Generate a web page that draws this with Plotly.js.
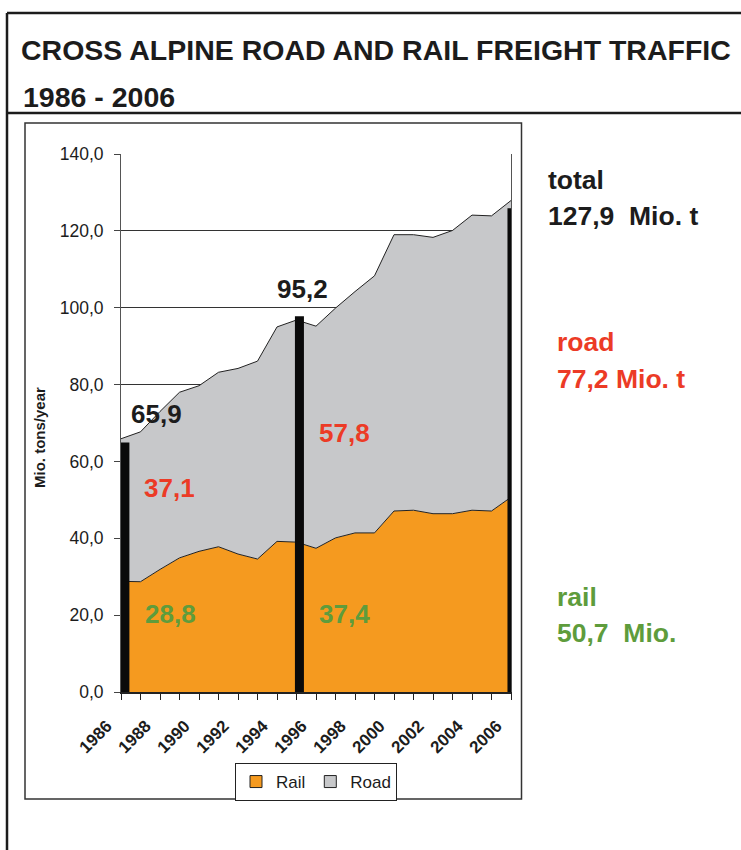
<!DOCTYPE html>
<html>
<head>
<meta charset="utf-8">
<script src="https://cdn.plot.ly/plotly-3.0.1.min.js"></script>
<style>
  html, body { margin: 0; padding: 0; background: #ffffff; }
  #chart { width: 741px; height: 850px; }
</style>
</head>
<body>
<div id="chart"></div>
<script>
// ---- data ----
var years = [1986, 1987, 1988, 1989, 1990, 1991, 1992, 1993, 1994, 1995, 1996,
             1997, 1998, 1999, 2000, 2001, 2002, 2003, 2004, 2005, 2006];
var tickLabels = ['1986', '', '1988', '', '1990', '', '1992', '', '1994', '', '1996',
                  '', '1998', '', '2000', '', '2002', '', '2004', '', '2006'];
var rail = [28.8, 28.7, 31.9, 34.9, 36.6, 37.8, 35.9, 34.6, 39.2, 39.0, 37.4,
            40.1, 41.4, 41.4, 47.1, 47.3, 46.4, 46.4, 47.3, 47.1, 50.7];
var road = [37.1, 39.0, 41.1, 43.1, 43.1, 45.4, 48.3, 51.5, 55.8, 57.8, 57.8,
            59.8, 62.8, 66.9, 71.9, 71.7, 71.9, 73.7, 76.8, 76.8, 77.2];
// black marker bars drawn on the chart
var markerYears = [1986.2, 1995.15, 2006.05];
var markerTops = [64.9, 97.8, 125.9];
// value labels
var totalLabels = ['65,9', '95,2'];
var roadLabels = ['37,1', '57,8'];
var railLabels = ['28,8', '37,4'];

// ---- layout helpers (pixel -> paper) ----
var ML = 121, MR = 230, MT = 154, MB = 158, W = 741, H = 850;
var PW = W - ML - MR, PH = H - MT - MB;
function px(x) { return (x - ML) / PW; }
function py(y) { return (H - MB - y) / PH; }

var FONT = 'Arial, "Liberation Sans", Helvetica, sans-serif';
var ORANGE = '#F59A1F', GREY = '#C7C8CA', RED = '#EC3B26', GREEN = '#5E9C3C', INK = '#1c1c1c';

// build marker bar trace
var bx = [], by = [];
for (var i = 0; i < markerYears.length; i++) {
  bx.push(markerYears[i], markerYears[i], null);
  by.push(0, markerTops[i], null);
}

var traces = [
  { x: years, y: rail, name: 'Rail', type: 'scatter', mode: 'lines', stackgroup: 'one',
    fillcolor: ORANGE, line: { color: '#222', width: 1 }, hoverinfo: 'x+y', showlegend: false },
  { x: years, y: road, name: 'Road', type: 'scatter', mode: 'lines', stackgroup: 'one',
    fillcolor: GREY, line: { color: '#222', width: 1 }, hoverinfo: 'x+y', showlegend: false },
  { x: bx, y: by, type: 'scatter', mode: 'lines', showlegend: false, hoverinfo: 'skip',
    line: { color: '#0a0a0a', width: 9 } },
  // legend entries (square swatches like the original)
  { x: [null], y: [null], type: 'bar', name: 'Rail', marker: { color: ORANGE, line: { color: '#222', width: 1 } } },
  { x: [null], y: [null], type: 'bar', name: 'Road', marker: { color: GREY, line: { color: '#222', width: 1 } } }
];

function ann(text, x, y, size, color, extra) {
  var a = { text: text, xref: 'paper', yref: 'paper', x: px(x), y: py(y),
    xanchor: 'center', yanchor: 'middle', showarrow: false,
    font: { family: FONT, size: size, color: color, weight: 700 } };
  if (extra) { for (var k in extra) a[k] = extra[k]; }
  return a;
}

var annotations = [
  ann('1986 - 2006', 21, 97, 28.5, INK, { xanchor: 'left' }),
  ann(totalLabels[0], 156, 414, 26, INK),
  ann(roadLabels[0], 169, 488, 26, RED),
  ann(railLabels[0], 170, 614, 26, GREEN),
  ann(totalLabels[1], 302, 289, 26, INK),
  ann(roadLabels[1], 344, 433, 26, RED),
  ann(railLabels[1], 344, 614, 26, GREEN),
  ann('total', 546, 180, 26.5, INK, { xanchor: 'left' }),
  ann('127,9&nbsp;&nbsp;Mio. t', 546, 216, 26.5, INK, { xanchor: 'left' }),
  ann('road', 555, 342, 26.5, RED, { xanchor: 'left' }),
  ann('77,2 Mio. t', 555, 379, 26.5, RED, { xanchor: 'left' }),
  ann('rail', 555, 597, 26.5, GREEN, { xanchor: 'left' }),
  ann('50,7&nbsp;&nbsp;Mio.', 555, 633, 26.5, GREEN, { xanchor: 'left' }),
  ann('Mio. tons/year', 40, 438, 15, INK, { textangle: -90 })
];

function line(x0, y0, x1, y1, w, c) {
  return { type: 'line', xref: 'paper', yref: 'paper', x0: px(x0), y0: py(y0), x1: px(x1), y1: py(y1),
    line: { color: c, width: w }, layer: 'above' };
}

var shapes = [
  line(7, 13, 741, 13, 2.5, INK),
  line(7, 13, 7, 850, 2.5, INK),
  line(7, 113, 741, 113, 2.5, INK),
  { type: 'rect', xref: 'paper', yref: 'paper', x0: px(25), y0: py(123), x1: px(521.5), y1: py(799),
    line: { color: '#333', width: 1.5 }, layer: 'below' }
];

var layout = {
  width: W, height: H,
  margin: { l: ML, r: MR, t: MT, b: MB, pad: 0 },
  paper_bgcolor: '#ffffff', plot_bgcolor: '#ffffff',
  separators: ',.',
  showlegend: true,
  title: { text: 'CROSS ALPINE ROAD AND RAIL FREIGHT TRAFFIC', xref: 'container', yref: 'container',
    x: 21 / W, xanchor: 'left', y: 1 - 50 / H, yanchor: 'middle',
    font: { family: FONT, size: 28.5, color: INK, weight: 700 } },
  xaxis: {
    type: 'linear', range: [years[0], years[years.length - 1]],
    tickmode: 'array', tickvals: years, ticktext: tickLabels, tickangle: -45,
    ticks: 'outside', ticklen: 6, tickwidth: 1, tickcolor: '#222',
    ticklabelshift: -14, ticklabelstandoff: 10,
    tickfont: { family: FONT, size: 17, color: INK, weight: 700 },
    showgrid: false, zeroline: false, showline: true, linecolor: '#222', linewidth: 1.5,
    fixedrange: true
  },
  yaxis: {
    range: [0, 140], dtick: 20, tickformat: '.1f',
    ticks: 'outside', ticklen: 6, tickwidth: 1, tickcolor: '#444',
    ticklabelstandoff: 7,
    tickfont: { family: FONT, size: 17.5, color: INK },
    showgrid: true, gridcolor: '#333', gridwidth: 1,
    zeroline: false, showline: true, linecolor: '#555', linewidth: 1, mirror: true,
    fixedrange: true
  },
  legend: {
    orientation: 'h', x: 0.5, xanchor: 'center', y: py(763), yanchor: 'top',
    bordercolor: '#222', borderwidth: 1, bgcolor: '#ffffff',
    font: { family: FONT, size: 17, color: INK }, itemwidth: 30,
    traceorder: 'normal'
  },
  annotations: annotations,
  shapes: shapes
};

Plotly.newPlot('chart', traces, layout, { displayModeBar: false, staticPlot: true });
</script>
</body>
</html>
